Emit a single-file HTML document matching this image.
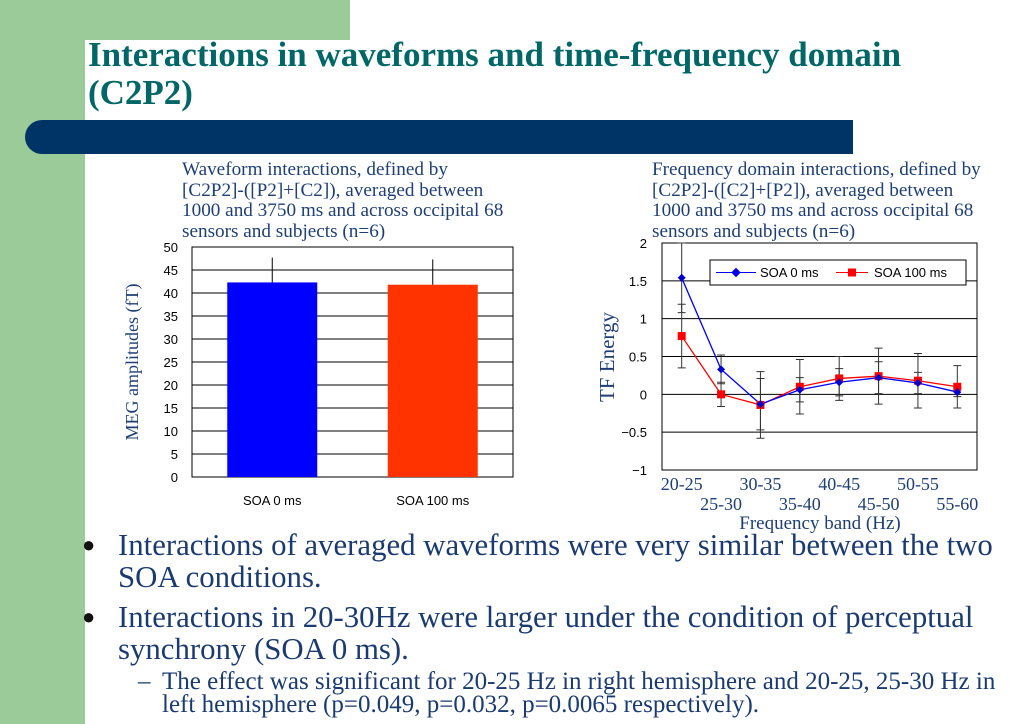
<!DOCTYPE html>
<html><head><meta charset="utf-8"><style>
body{margin:0;width:1024px;height:724px;overflow:hidden;background:#fff;font-family:"Liberation Serif",serif;position:relative}
.abs{position:absolute}
.cap{color:#1f3f73;font-size:19.2px;line-height:20.5px;white-space:nowrap}
.bul{color:#1a3a70;font-size:30.8px;line-height:32px;white-space:nowrap}
</style></head><body>
<div class="abs" style="left:0;top:0;width:350px;height:40px;background:#9ccb9a"></div>
<div class="abs" style="left:0;top:0;width:85px;height:724px;background:#9ccb9a"></div>
<div class="abs" style="left:85px;top:40px;width:300px;height:100px;background:#fff;border-top-left-radius:22px"></div>
<div class="abs" style="left:88px;top:36px;width:900px;color:#006666;font-weight:bold;font-size:35px;line-height:38px;white-space:nowrap">Interactions in waveforms and time-frequency domain<br>(C2P2)</div>
<div class="abs" style="left:25px;top:120px;width:828px;height:34px;background:#003366;border-radius:17px 0 0 17px"></div>
<div class="abs cap" style="left:182px;top:160px">Waveform interactions, defined by<br>[C2P2]-([P2]+[C2]), averaged between<br>1000 and 3750 ms and across occipital 68<br>sensors and subjects (n=6)</div>
<div class="abs cap" style="left:652px;top:160px">Frequency domain interactions, defined by<br>[C2P2]-([C2]+[P2]), averaged between<br>1000 and 3750 ms and across occipital 68<br>sensors and subjects (n=6)</div>
<svg class="abs" style="left:0;top:0" width="1024" height="724" id="svg"></svg>
<div class="abs" style="left:80px;top:529px;width:940px">
<div class="bul" style="position:relative;padding-left:38px;margin-bottom:8px"><span style="position:absolute;left:2px;font-size:22px;color:#111">●</span>Interactions of averaged waveforms were very similar between the two<br>SOA conditions.</div>
<div class="bul" style="position:relative;padding-left:38px"><span style="position:absolute;left:2px;font-size:22px;color:#111">●</span>Interactions in 20-30Hz were larger under the condition of perceptual<br>synchrony (SOA 0 ms).</div>
<div style="position:relative;padding-left:82px;color:#1a3a70;font-size:25px;line-height:23px;margin-top:5px;white-space:nowrap"><span style="position:absolute;left:58px">–</span>The effect was significant for 20-25 Hz in right hemisphere and 20-25, 25-30 Hz in<br>left hemisphere (p=0.049, p=0.032, p=0.0065 respectively).</div>
</div>
<script>
const barCats=["SOA 0 ms","SOA 100 ms"];
const barVals=[42.3,41.8];
const barErr=[5.4,5.5];
const barTicks=[0,5,10,15,20,25,30,35,40,45,50];
const bands=["20-25","25-30","30-35","35-40","40-45","45-50","50-55","55-60"];
const soa0=[1.54,0.33,-0.13,0.06,0.16,0.22,0.15,0.03];
const soa100=[0.77,0.0,-0.14,0.10,0.21,0.24,0.18,0.10];
const err0=[0.46,0.19,0.34,0.16,0.18,0.21,0.14,0.06];
const err100=[0.42,0.16,0.44,0.36,0.29,0.37,0.36,0.28];
const lineTicks=[-1,-0.5,0,0.5,1,1.5,2];
const tickLabels=["−1","−0.5","0","0.5","1","1.5","2"];
const S=document.getElementById('svg');const NS="http://www.w3.org/2000/svg";
function mk(t,a,txt){const e=document.createElementNS(NS,t);for(const k in a)e.setAttribute(k,a[k]);if(txt!==undefined)e.textContent=txt;S.appendChild(e);return e;}
const bx0=192,bx1=513,by0=477,by1=247;
const by=v=>by0-(v-0)/50*(by0-by1);
const bw=(bx1-bx0)/barCats.length;
for(const t of barTicks){let l=mk('line',{x1:bx0,x2:bx1,y1:by(t),y2:by(t),stroke:'#000','stroke-width':1});

let tx=mk('text',{x:178,y:by(t)+5,'text-anchor':'end','font-family':'Liberation Sans, sans-serif','font-size':13},t);
}
let fr=mk('rect',{x:bx0,y:by1,width:bx1-bx0,height:by0-by1,fill:'none',stroke:'#000'});

const barCols=['#0000ff','#ff3300'];
barCats.forEach((c,i)=>{const cx=bx0+bw*(i+0.5),w=90;
let r=mk('rect',{x:cx-w/2,y:by(barVals[i]),width:w,height:by0-by(barVals[i]),fill:barCols[i]});

let e=mk('line',{x1:cx,x2:cx,y1:by(barVals[i]),y2:by(barVals[i]+barErr[i]),stroke:'#000'});

let t=mk('text',{x:cx,y:505,'text-anchor':'middle','font-family':'Liberation Sans, sans-serif','font-size':13},c);
});
let yt=mk('text',{x:0,y:0,transform:'translate(138,362) rotate(-90)','text-anchor':'middle','font-size':18,fill:'#1f3f73','font-family':'Liberation Serif, serif'},'MEG amplitudes (fT)');

const lx0=662,lx1=977,ly0=470,ly1=243;
const ly=v=>ly0-(v+1)/3*(ly0-ly1);
const cw=(lx1-lx0)/bands.length;const lx=i=>lx0+cw*(i+0.5);
lineTicks.forEach((t,k)=>{if(t>-1&&t<2){let l=mk('line',{x1:lx0,x2:lx1,y1:ly(t),y2:ly(t),stroke:'#000'});}
let tx=mk('text',{x:647,y:ly(t)+5,'text-anchor':'end','font-family':'Liberation Sans, sans-serif','font-size':13},tickLabels[k]);
});
let fr2=mk('rect',{x:lx0,y:ly1,width:lx1-lx0,height:ly0-ly1,fill:'none',stroke:'#000'});

function errs(vals,er){vals.forEach((v,i)=>{const x=lx(i);
let e=mk('path',{d:`M${x},${ly(v-er[i])}V${ly(v+er[i])}M${x-4},${ly(v-er[i])}h8M${x-4},${ly(v+er[i])}h8`,stroke:'#333',fill:'none'});
});}
errs(soa0,err0);errs(soa100,err100);
let p1=mk('polyline',{points:soa100.map((v,i)=>lx(i)+','+ly(v)).join(' '),fill:'none',stroke:'#ff0000','stroke-width':1.3});

let p0=mk('polyline',{points:soa0.map((v,i)=>lx(i)+','+ly(v)).join(' '),fill:'none',stroke:'#0000ff','stroke-width':1.3});

soa100.forEach((v,i)=>{let m=mk('rect',{x:lx(i)-4,y:ly(v)-4,width:8,height:8,fill:'#ff0000'});});
soa0.forEach((v,i)=>{let m=mk('path',{d:`M${lx(i)},${ly(v)-4}l4,4l-4,4l-4,-4z`,fill:'#0000cc'});});
bands.forEach((b,i)=>{let t=mk('text',{x:lx(i),y:i%2?510:490,'text-anchor':'middle','font-size':18,fill:'#1f3f73','font-family':'Liberation Serif, serif'},b);
});
let xt=mk('text',{x:820,y:529,'text-anchor':'middle','font-size':19,fill:'#1f3f73','font-family':'Liberation Serif, serif'},'Frequency band (Hz)');

let yt2=mk('text',{x:0,y:0,transform:'translate(614,357) rotate(-90)','text-anchor':'middle','font-size':21,fill:'#1f3f73','font-family':'Liberation Serif, serif'},'TF Energy');

let lg=mk('rect',{x:710,y:260,width:256,height:25,fill:'#fff',stroke:'#000'});

let l1=mk('path',{d:'M716,272.5h40M736,268.5l4,4l-4,4l-4,-4z',stroke:'#0000ff',fill:'#0000cc'});
let t1=mk('text',{x:760,y:277,'font-family':'Liberation Sans, sans-serif','font-size':13},'SOA 0 ms');
let l2=mk('path',{d:'M836,272.5h32',stroke:'#ff0000'});
let l3=mk('rect',{x:848,y:268.5,width:8,height:8,fill:'#ff0000'});
let t2=mk('text',{x:874,y:277,'font-family':'Liberation Sans, sans-serif','font-size':13},'SOA 100 ms');
</script>
</body></html>
